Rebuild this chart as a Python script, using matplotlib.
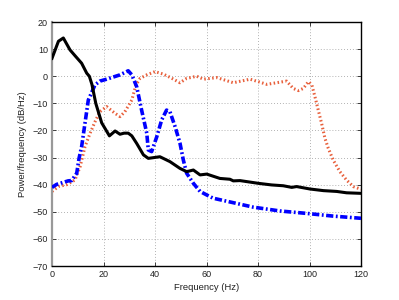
import matplotlib
matplotlib.use("Agg")
import matplotlib.pyplot as plt

plt.rcParams['font.family'] = ['Liberation Sans', 'DejaVu Sans']

# Black solid series
black_f = [0, 2.5, 4.4, 7, 9, 11.5, 13.5, 14.5, 15.5, 17, 19.3, 22.3, 24.5, 26.4, 28, 29.6,
           31, 32.9, 35.5, 37.4, 41.9, 45.8, 49.7, 52.3, 54.9, 57.5, 60.1, 65.2, 69.1, 70.4,
           73, 80.1, 85.3, 89.8, 93.1, 95, 100.2, 105.4, 110.6, 114.4, 120]
black_v = [6.6, 12.9, 14.1, 9.7, 7.5, 4.8, 1.1, 0.0, -3.0, -10.0, -17.2, -22.0, -20.2, -21.4, -21.0, -21.0,
           -22.0, -24.8, -29.0, -30.3, -29.7, -31.5, -34.0, -35.2, -34.6, -36.4, -36.1, -37.7, -38.0, -38.6,
           -38.5, -39.5, -40.1, -40.4, -41.0, -40.7, -41.6, -42.2, -42.5, -43.0, -43.2]

# Blue dash-dot series
blue_f = [0, 1.8, 6.3, 7.6, 9.6, 10.5, 11.5, 14.1, 16.7, 18.6, 21.2, 26.4, 29.6, 31, 32.9,
          34.8, 36.8, 37.4, 38.7, 40.7, 42.6, 44.5, 45.8, 47.8, 49.7, 51, 52.3, 54.9, 57.5,
          60.1, 62.6, 73, 78.2, 88.5, 98.9, 109.2, 120]
blue_v = [-41.0, -39.9, -38.6, -38.5, -35.8, -30.3, -26.0, -8.8, -3.2, -1.8, -1.1, 0.5, 2.0, 0.5, -3.9,
          -12.5, -21.0, -27.2, -27.8, -22.3, -16.1, -12.5, -13.1, -18.6, -24.7, -30.9, -35.8, -39.5, -42.5,
          -43.8, -45.0, -47.2, -48.3, -49.7, -50.6, -51.6, -52.4]

# Red dotted series
red_f = [0, 2.5, 5.7, 8.9, 10.9, 12.2, 12.8, 14.8, 16.7, 18.6, 21.2, 24.5, 26.4, 28.3, 31,
         32.6, 34.2, 36.8, 40, 43.2, 45.8, 49.7, 52.3, 56.2, 58.8, 64, 70.4, 76.9, 80.1, 83.4,
         91.1, 93.7, 95.7, 97.6, 99.6, 100.9, 102.1, 103.4, 104.7, 106, 107.3, 109.2, 111.8,
         114.4, 117, 120]
red_v = [-42.5, -40.7, -40.0, -38.3, -33.4, -28.4, -26.0, -21.0, -16.8, -13.1, -11.2, -13.7, -14.9, -13.1, -8.8,
         -3.2, -0.8, 0.5, 1.7, 0.8, -0.4, -2.4, -0.8, 0.0, -1.1, -0.5, -2.4, -1.1, -2.0, -3.0,
         -1.8, -4.5, -5.3, -4.5, -2.0, -3.2, -7.5, -12.5, -17.4, -22.9, -26.6, -30.9, -35.2,
         -38.3, -40.7, -41.7]

x_ticks = [0, 20, 40, 60, 80, 100, 120]
y_ticks = [20, 10, 0, -10, -20, -30, -40, -50, -60, -70]

fig = plt.figure(figsize=(3.99, 3.0), dpi=100)
ax = fig.add_axes([52/399, 34/300, 309/399, 244/300])

ax.plot(red_f, red_v, color='#e8603c', lw=2.2, linestyle=(0, (0.5, 0.8)),
        dash_capstyle='butt', zorder=2)
ax.plot(blue_f, blue_v, color='#0000ff', lw=2.6, linestyle=(0, (2.0, 0.7, 0.5, 0.7)),
        dash_capstyle='butt', zorder=3)
ax.plot(black_f, black_v, color='black', lw=2.2, zorder=4, solid_joinstyle='round')

ax.set_xlim(0, 120)
ax.set_ylim(-70, 20)
ax.set_xticks(x_ticks)
ax.set_yticks(y_ticks)
ax.grid(True, linestyle=(0, (1, 2.5)), color='#999999', lw=0.6)
ax.tick_params(direction='in', top=True, right=True, length=3, width=0.6,
               labelsize=6.5, colors='#222222', pad=3)
for side in ['top', 'right', 'bottom']:
    ax.spines[side].set_linewidth(1.0)
    ax.spines[side].set_color('black')
ax.spines['left'].set_color('#999999')
ax.spines['left'].set_linewidth(1.6)

ax.set_xlabel('Frequency (Hz)', fontsize=6.8, color='#222222', labelpad=3)
ax.set_ylabel('Power/frequency (dB/Hz)', fontsize=6.8, color='#222222', labelpad=4)

fig.savefig('out.png', dpi=100)
